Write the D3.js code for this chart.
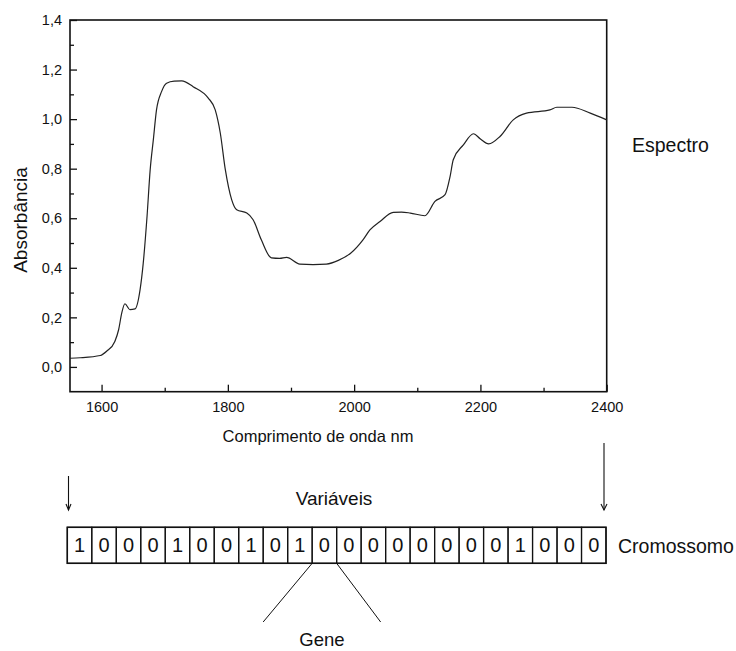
<!DOCTYPE html>
<html>
<head>
<meta charset="utf-8">
<script src="https://cdn.jsdelivr.net/npm/d3@7"></script>
<style>
  html, body { margin: 0; padding: 0; background: #fff; }
  svg { display: block; font-family: "Liberation Sans", Arial, Helvetica, sans-serif; }
</style>
</head>
<body>
<svg id="chart" width="736" height="651"></svg>
<script>
// NIR absorbance spectrum (wavelength in nm)
const wavelength = [1550, 1566, 1598, 1608, 1621, 1627, 1632, 1637, 1645, 1653, 1661, 1666, 1672, 1677,
  1682, 1687, 1695, 1703, 1715, 1727, 1745, 1769, 1780, 1788, 1796, 1806, 1814, 1830, 1840, 1853,
  1869, 1882, 1893, 1914, 1935, 1956, 1975, 1994, 2014, 2025, 2041, 2062, 2075, 2089, 2112, 2128,
  2144, 2152, 2157, 2173, 2189, 2200, 2213, 2231, 2252, 2273, 2310, 2321, 2345, 2374, 2400];
const absorbance = [0.035, 0.037, 0.046, 0.063, 0.103, 0.150, 0.218, 0.255, 0.231, 0.234, 0.312, 0.419, 0.607, 0.796,
  0.917, 1.037, 1.111, 1.145, 1.153, 1.154, 1.131, 1.085, 1.037, 0.944, 0.796, 0.675, 0.634, 0.621, 0.594, 0.513,
  0.440, 0.438, 0.442, 0.415, 0.413, 0.415, 0.430, 0.458, 0.513, 0.553, 0.587, 0.624, 0.625, 0.621, 0.610, 0.668,
  0.695, 0.769, 0.836, 0.896, 0.941, 0.920, 0.900, 0.930, 0.997, 1.024, 1.037, 1.048, 1.048, 1.024, 0.997];

// Axis ticks
const xMajorTicks = [1600, 1800, 2000, 2200, 2400];
const xMinorTicks = [1700, 1900, 2100, 2300];
const yMajorTicks = [0, 0.2, 0.4, 0.6, 0.8, 1.0, 1.2, 1.4];
const yMinorTicks = [0.1, 0.3, 0.5, 0.7, 0.9, 1.1, 1.3];

// Binary chromosome: one gene per wavelength variable
const genes = [1, 0, 0, 0, 1, 0, 0, 1, 0, 1, 0, 0, 0, 0, 0, 0, 0, 0, 1, 0, 0, 0];
const highlightedGene = 10;

const svg = d3.select("#chart");
svg.append("rect").attr("width", 736).attr("height", 651).attr("fill", "#fff");

const plotLeft = 70, plotRight = 606.7, plotTop = 20, plotBottom = 391.7;
const x = d3.scaleLinear().domain([1550, 2400]).range([plotLeft, plotRight]);
const y = d3.scaleLinear().domain([-0.1, 1.4]).range([plotBottom, plotTop]);

const ptBR = d3.formatLocale({ decimal: ",", thousands: ".", grouping: [3], currency: ["R$", ""] });
const fmtY = ptBR.format(".1f");

const ink = "#111";

// Minor ticks
svg.append("g").attr("transform", `translate(0,${plotBottom})`)
  .call(d3.axisBottom(x).tickValues(xMinorTicks).tickSize(-4).tickFormat(""))
  .call(g => g.select(".domain").remove());
svg.append("g").attr("transform", `translate(${plotLeft},0)`)
  .call(d3.axisLeft(y).tickValues(yMinorTicks).tickSize(-4).tickFormat(""))
  .call(g => g.select(".domain").remove());

// Major ticks with labels
const xAxis = svg.append("g").attr("transform", `translate(0,${plotBottom})`)
  .call(d3.axisBottom(x).tickValues(xMajorTicks).tickSize(-7).tickPadding(10).tickFormat(d3.format("d")));
xAxis.select(".domain").remove();
xAxis.selectAll("text").attr("font-size", 14.5).attr("fill", ink).attr("font-family", null);

const yAxis = svg.append("g").attr("transform", `translate(${plotLeft},0)`)
  .call(d3.axisLeft(y).tickValues(yMajorTicks).tickSize(-7).tickPadding(8).tickFormat(fmtY));
yAxis.select(".domain").remove();
yAxis.selectAll("text").attr("font-size", 14.5).attr("fill", ink).attr("font-family", null);

svg.selectAll(".tick line").attr("stroke", ink).attr("stroke-width", 1.3);

// Plot frame
svg.append("rect")
  .attr("x", plotLeft).attr("y", plotTop)
  .attr("width", plotRight - plotLeft).attr("height", plotBottom - plotTop)
  .attr("fill", "none").attr("stroke", ink).attr("stroke-width", 1.6);

// Spectrum
const line = d3.line().x((d, i) => x(wavelength[i])).y(d => y(d)).curve(d3.curveMonotoneX);
svg.append("path").datum(absorbance)
  .attr("d", line)
  .attr("fill", "none").attr("stroke", "#222").attr("stroke-width", 1.2);

// Axis titles
svg.append("text").attr("x", 318).attr("y", 442).attr("text-anchor", "middle")
  .attr("font-size", 16.5).attr("fill", ink).text("Comprimento de onda nm");
svg.append("text").attr("transform", "translate(27,220) rotate(-90)").attr("text-anchor", "middle")
  .attr("font-size", 19).attr("fill", ink).text("Absorbância");
svg.append("text").attr("x", 632).attr("y", 152)
  .attr("font-size", 19.5).attr("fill", ink).text("Espectro");

// Arrows marking the spectral range ends
function arrow(xp, y0, y1, w) {
  const g = svg.append("g").attr("stroke", ink).attr("stroke-width", 1.1).attr("fill", "none");
  g.append("line").attr("x1", xp).attr("x2", xp).attr("y1", y0).attr("y2", y1);
  g.append("path").attr("d", `M${xp - w},${y1 - 6}L${xp},${y1}L${xp + w},${y1 - 6}`);
}
arrow(68.5, 476, 510, 2.5);
arrow(604, 443, 510, 3);

svg.append("text").attr("x", 334).attr("y", 505).attr("text-anchor", "middle")
  .attr("font-size", 19).attr("fill", ink).text("Variáveis");

// Chromosome cells
const cellTop = 527.3, cellBottom = 563.3;
const cx = d3.scaleBand().domain(d3.range(genes.length)).range([67.3, 606]).paddingInner(0);
const cells = svg.append("g");
cells.selectAll("rect").data(genes).join("rect")
  .attr("x", (d, i) => cx(i)).attr("y", cellTop)
  .attr("width", cx.bandwidth()).attr("height", cellBottom - cellTop)
  .attr("fill", "none").attr("stroke", ink).attr("stroke-width", 1.2);
cells.selectAll("text").data(genes).join("text")
  .attr("x", (d, i) => cx(i) + cx.bandwidth() / 2).attr("y", 552)
  .attr("text-anchor", "middle").attr("font-size", 20).attr("fill", ink)
  .text(d => d);
svg.append("rect").attr("x", cx(0)).attr("y", cellTop)
  .attr("width", cx.bandwidth() * genes.length).attr("height", cellBottom - cellTop)
  .attr("fill", "none").attr("stroke", ink).attr("stroke-width", 1.5);

svg.append("text").attr("x", 618).attr("y", 553)
  .attr("font-size", 19.5).attr("fill", ink).text("Cromossomo");

// Gene callout
const gx0 = cx(highlightedGene), gx1 = gx0 + cx.bandwidth();
svg.append("line").attr("x1", gx0).attr("y1", cellBottom).attr("x2", gx0 - 49).attr("y2", 622)
  .attr("stroke", ink).attr("stroke-width", 1);
svg.append("line").attr("x1", gx1).attr("y1", cellBottom).attr("x2", gx1 + 44).attr("y2", 622)
  .attr("stroke", ink).attr("stroke-width", 1);
svg.append("text").attr("x", 322).attr("y", 646).attr("text-anchor", "middle")
  .attr("font-size", 18.5).attr("fill", ink).text("Gene");
</script>
</body>
</html>
